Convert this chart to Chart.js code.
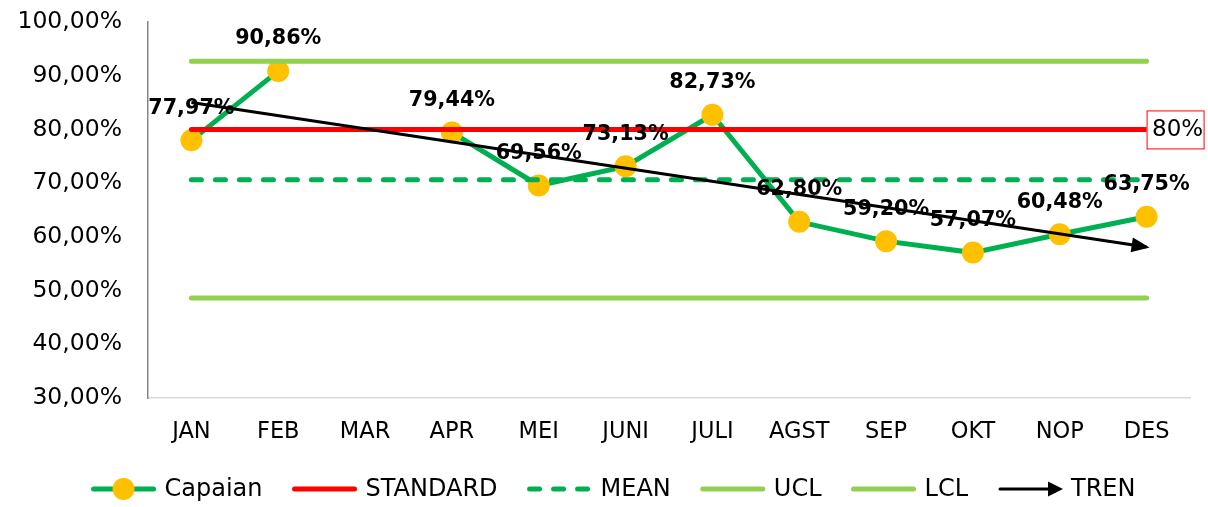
<!DOCTYPE html>
<html>
<head>
<meta charset="utf-8">
<script src="https://cdn.jsdelivr.net/npm/chart.js@4"></script>
<style>
  html, body { margin: 0; padding: 0; background: #fff; }
</style>
</head>
<body>
<canvas id="chart" width="1208" height="507"></canvas>
<script>
// data
const months = ['JAN', 'FEB', 'MAR', 'APR', 'MEI', 'JUNI', 'JULI', 'AGST', 'SEP', 'OKT', 'NOP', 'DES'];
const capaian = [77.97, 90.86, null, 79.44, 69.56, 73.13, 82.73, 62.80, 59.20, 57.07, 60.48, 63.75];
const standard = [80, 80, 80, 80, 80, 80, 80, 80, 80, 80, 80, 80];
const mean = [70.64, 70.64, 70.64, 70.64, 70.64, 70.64, 70.64, 70.64, 70.64, 70.64, 70.64, 70.64];
const ucl = [92.7, 92.7, 92.7, 92.7, 92.7, 92.7, 92.7, 92.7, 92.7, 92.7, 92.7, 92.7];
const lcl = [48.6, 48.6, 48.6, 48.6, 48.6, 48.6, 48.6, 48.6, 48.6, 48.6, 48.6, 48.6];
const tren = [85.0, null, null, null, null, null, null, null, null, null, null, 58.1];
const yRange = [30, 100];
const standardLabel = '80%';

const Colors = {
    green: '#00B050',
    lightGreen: '#92D050',
    red: '#FF0000',
    yellow: '#FFC000',
    black: '#000000'
};
const FONT = "'DejaVu Sans', Verdana, sans-serif";

function fmtPct(v) {
    return v.toFixed(2).replace('.', ',') + '%';
}

// labels above the Capaian points
const dataLabels = {
    id: 'dataLabels',
    afterDatasetsDraw(chart) {
        const ctx = chart.ctx;
        const meta = chart.getDatasetMeta(0);
        ctx.save();
        ctx.font = 'bold 20.7px ' + FONT;
        ctx.fillStyle = '#000';
        ctx.textAlign = 'center';
        ctx.textBaseline = 'middle';
        meta.data.forEach((pt, i) => {
            if (capaian[i] == null) return;
            ctx.fillText(fmtPct(capaian[i]), pt.x, pt.y - 32);
        });
        ctx.restore();
    }
};

// arrow head at the end of TREN + boxed "80%" at end of STANDARD
const extras = {
    id: 'extras',
    afterDatasetsDraw(chart) {
        const ctx = chart.ctx;
        const tm = chart.getDatasetMeta(5);
        const pts = tm.data.filter((p, i) => tren[i] != null);
        const a = pts[pts.length - 2], b = pts[pts.length - 1];
        const ang = Math.atan2(b.y - a.y, b.x - a.x);
        ctx.save();
        ctx.translate(b.x, b.y);
        ctx.rotate(ang);
        ctx.fillStyle = Colors.black;
        ctx.beginPath();
        ctx.moveTo(3, 0);
        ctx.lineTo(-15, -7.5);
        ctx.lineTo(-15, 7.5);
        ctx.closePath();
        ctx.fill();
        ctx.restore();

        const sm = chart.getDatasetMeta(1);
        const last = sm.data[sm.data.length - 1];
        ctx.save();
        ctx.fillStyle = '#fff';
        ctx.strokeStyle = Colors.red;
        ctx.lineWidth = 1;
        ctx.fillRect(last.x, last.y - 19, 58, 39);
        ctx.strokeRect(last.x + 0.5, last.y - 18.5, 57, 38);
        ctx.font = '23px ' + FONT;
        ctx.fillStyle = '#000';
        ctx.textAlign = 'center';
        ctx.textBaseline = 'middle';
        ctx.fillText(standardLabel, last.x + 31, last.y + 1);
        ctx.restore();
    }
};

// bottom legend drawn by hand (line + marker samples)
const legendBox = {
    id: 'legendBox',
    afterDraw(chart) {
        const ctx = chart.ctx;
        const items = [
            { text: 'Capaian', color: Colors.green, width: 5, marker: true },
            { text: 'STANDARD', color: Colors.red, width: 5 },
            { text: 'MEAN', color: Colors.green, width: 5, dash: [10, 14] },
            { text: 'UCL', color: Colors.lightGreen, width: 5 },
            { text: 'LCL', color: Colors.lightGreen, width: 5 },
            { text: 'TREN', color: Colors.black, width: 3, arrow: true }
        ];
        const lineLen = 66, gap = 8, spacing = 29, y = 489;
        ctx.save();
        ctx.font = '24px ' + FONT;
        let total = 0;
        items.forEach((it, i) => {
            it.w = ctx.measureText(it.text).width;
            total += lineLen + gap + it.w + (i < items.length - 1 ? spacing : 0);
        });
        let x = 613 - total / 2;
        items.forEach(it => {
            ctx.strokeStyle = it.color;
            ctx.lineWidth = it.width;
            ctx.lineCap = 'round';
            ctx.setLineDash(it.dash || []);
            ctx.beginPath();
            ctx.moveTo(x + 3, y);
            ctx.lineTo(x + lineLen - (it.arrow ? 12 : 3), y);
            ctx.stroke();
            ctx.setLineDash([]);
            if (it.marker) {
                ctx.fillStyle = Colors.yellow;
                ctx.beginPath();
                ctx.arc(x + lineLen / 2, y, 11, 0, Math.PI * 2);
                ctx.fill();
            }
            if (it.arrow) {
                ctx.fillStyle = it.color;
                ctx.beginPath();
                ctx.moveTo(x + lineLen, y);
                ctx.lineTo(x + lineLen - 15, y - 7.5);
                ctx.lineTo(x + lineLen - 15, y + 7.5);
                ctx.closePath();
                ctx.fill();
            }
            ctx.fillStyle = '#000';
            ctx.textAlign = 'left';
            ctx.textBaseline = 'middle';
            ctx.fillText(it.text, x + lineLen + gap, y + 1);
            x += lineLen + gap + it.w + spacing;
        });
        ctx.restore();
    }
};

const lineSet = (label, data, color, width, order, extra) => Object.assign({
    label: label,
    data: data,
    borderColor: color,
    backgroundColor: color,
    borderWidth: width,
    borderCapStyle: 'round',
    pointRadius: 0,
    pointHoverRadius: 0,
    fill: false,
    tension: 0,
    order: order
}, extra || {});

const ctx = document.getElementById('chart').getContext('2d');
const chart = new Chart(ctx, {
    type: 'line',
    data: {
        labels: months,
        datasets: [
            lineSet('Capaian', capaian, Colors.green, 5, 6, {
                pointRadius: 11,
                pointBackgroundColor: Colors.yellow,
                pointBorderColor: Colors.yellow,
                pointBorderWidth: 0,
                spanGaps: false
            }),
            lineSet('STANDARD', standard, Colors.red, 5, 5),
            lineSet('MEAN', mean, Colors.green, 5, 4, { borderDash: [10, 14] }),
            lineSet('UCL', ucl, Colors.lightGreen, 5, 3),
            lineSet('LCL', lcl, Colors.lightGreen, 5, 2),
            lineSet('TREN', tren, Colors.black, 3, 1, { spanGaps: true, borderCapStyle: 'butt' })
        ]
    },
    options: {
        responsive: false,
        animation: false,
        devicePixelRatio: 1,
        layout: { padding: { left: 0, right: 18, top: 22, bottom: 0 } },
        plugins: {
            legend: { display: false },
            tooltip: { enabled: false }
        },
        scales: {
            x: {
                offset: true,
                grid: { display: false, drawTicks: false },
                border: { display: true, color: '#D9D9D9', width: 1.5 },
                ticks: { color: '#000', font: { family: FONT, size: 22.5 }, padding: 21 },
                afterFit(scale) { scale.height = 109; }
            },
            y: {
                min: yRange[0],
                max: yRange[1],
                grid: { display: false, drawTicks: false },
                border: { display: true, color: '#868686', width: 1.5 },
                ticks: {
                    stepSize: 10,
                    color: '#000',
                    font: { family: FONT, size: 23.5 },
                    padding: 26,
                    callback: v => fmtPct(v)
                },
                afterFit(scale) {
                    scale.width = 148;
                    // the tick padding would otherwise push the plot top down
                    scale.paddingTop = 0;
                    scale.paddingBottom = 0;
                }
            }
        }
    },
    plugins: [dataLabels, extras, legendBox]
});
</script>
</body>
</html>
